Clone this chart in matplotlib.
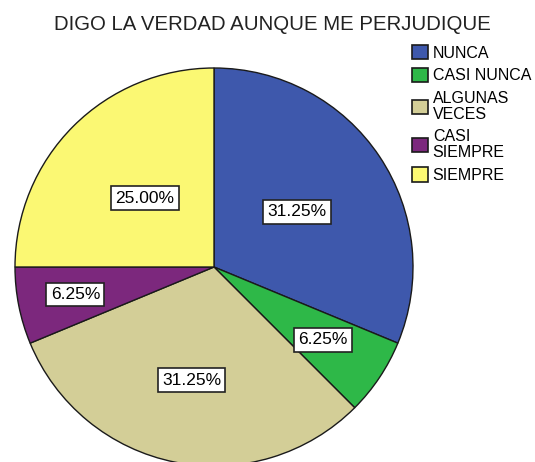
import numpy as np
import matplotlib.pyplot as plt

# Datos de la pregunta (frecuencias sobre 16 respuestas)
categorias = ['NUNCA', 'CASI NUNCA', 'ALGUNAS\nVECES', 'CASI\nSIEMPRE', 'SIEMPRE']
frecuencias = [5, 1, 5, 1, 4]
colores = ['#3E58AC', '#2EB848', '#D3CE97', '#7C287D', '#FBF873']

# distancia de cada etiqueta al centro (fraccion del radio)
dist_etiquetas = [0.5, 0.66, 0.58, 0.71, 0.49]

plt.rcParams['font.family'] = ['Liberation Sans', 'DejaVu Sans']

fig = plt.figure(figsize=(5.35, 4.62), dpi=100)
W, H = 535, 462
lim = 1.02
r_px = 199
cx, cy = 214, 267
half = r_px * lim
ax = fig.add_axes([(cx - half) / W, (H - cy - half) / H, 2 * half / W, 2 * half / H])

wedges, _ = ax.pie(frecuencias, colors=colores, startangle=90, counterclock=False,
                   wedgeprops=dict(edgecolor='#1a1a1a', linewidth=1.0))
ax.set_xlim(-lim, lim)
ax.set_ylim(-lim, lim)
ax.set_aspect('equal')

total = sum(frecuencias)
for w, f, d in zip(wedges, frecuencias, dist_etiquetas):
    ang = np.deg2rad((w.theta1 + w.theta2) / 2)
    ax.text(d * np.cos(ang), d * np.sin(ang), f'{100 * f / total:.2f}%',
            ha='center', va='center', fontsize=12.5,
            bbox=dict(boxstyle='square,pad=0.25', facecolor='white', edgecolor='#222222', linewidth=1.2))

fig.text(272 / W, 1 - 24 / H, 'DIGO LA VERDAD AUNQUE ME PERJUDIQUE',
         ha='center', va='center', fontsize=14.7, color='#222222')

leg = fig.legend(wedges, categorias, loc='upper left', bbox_to_anchor=(412 / W, 1 - 45 / H),
                 frameon=False, fontsize=11.5, handlelength=1.0, handleheight=1.0,
                 handletextpad=0.3, labelspacing=0.45, borderpad=0, borderaxespad=0)
for t in leg.get_texts():
    t.set_linespacing(1.1)
for p in leg.get_patches():
    p.set_edgecolor('#1a1a1a')
    p.set_linewidth(1.2)

fig.savefig('out.png', dpi=100)
